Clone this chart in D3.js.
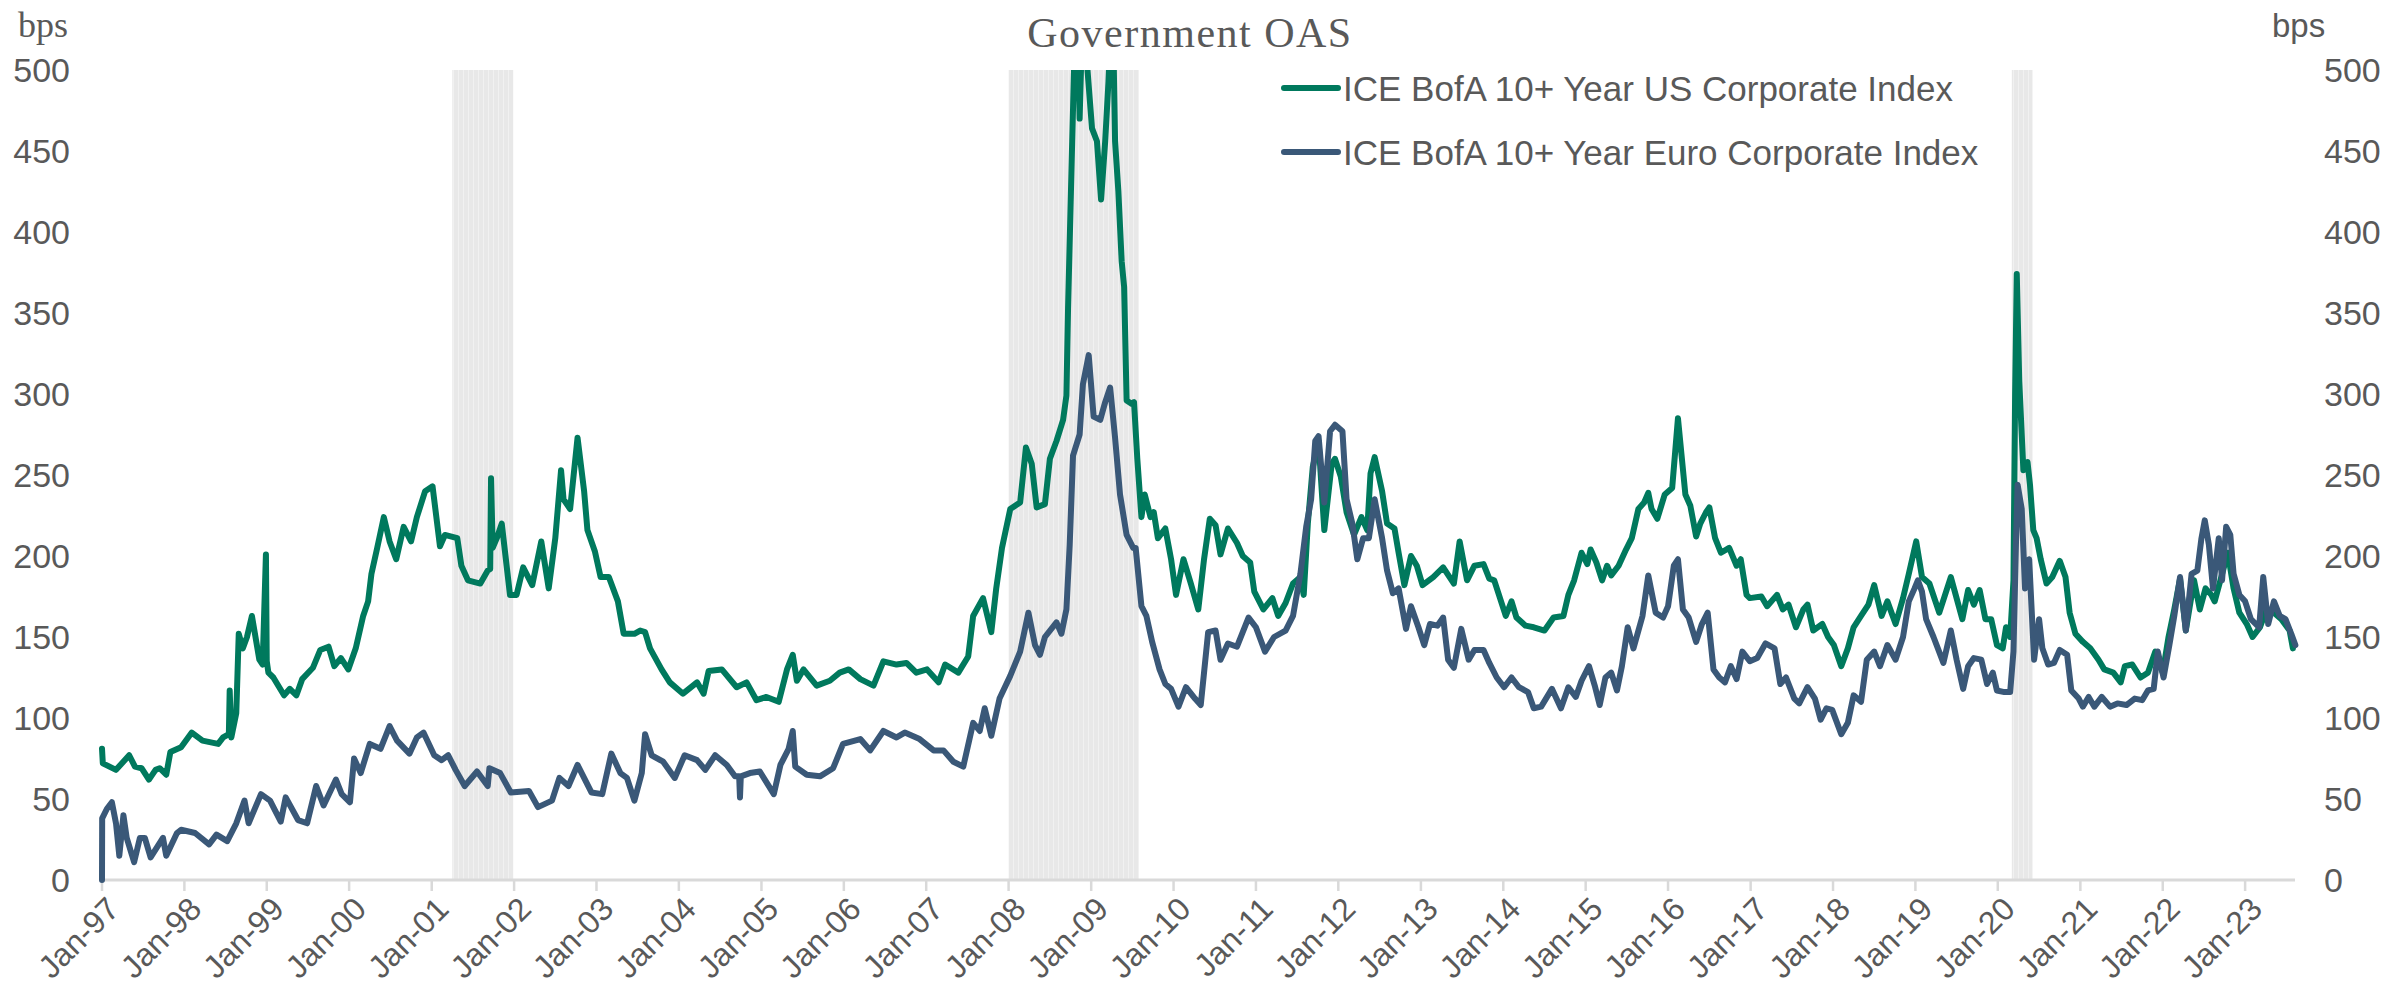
<!DOCTYPE html>
<html>
<head>
<meta charset="utf-8">
<script src="https://cdn.jsdelivr.net/npm/d3@7"></script>
<style>
body{margin:0;background:#fff}
</style>
</head>
<body>
<div id="chart"></div>
<script>
// time in decimal years, spreads in bps
var usTime = [1997.00,1997.01,1997.17,1997.33,1997.40,1997.48,1997.57,1997.65,1997.70,1997.78,1997.83,1997.96,1998.09,1998.22,1998.41,1998.47,1998.54,1998.55,1998.57,1998.63,1998.66,1998.71,1998.76,1998.82,1998.87,1998.91,1998.95,1998.99,1999.00,1999.02,1999.08,1999.21,1999.28,1999.36,1999.43,1999.56,1999.65,1999.75,1999.82,1999.90,1999.99,2000.08,2000.17,2000.23,2000.27,2000.34,2000.42,2000.49,2000.57,2000.66,2000.75,2000.82,2000.92,2001.01,2001.10,2001.16,2001.31,2001.36,2001.44,2001.59,2001.68,2001.71,2001.72,2001.74,2001.79,2001.85,2001.95,2002.03,2002.11,2002.22,2002.33,2002.42,2002.50,2002.57,2002.60,2002.68,2002.77,2002.85,2002.89,2002.98,2003.05,2003.15,2003.26,2003.33,2003.46,2003.53,2003.59,2003.65,2003.79,2003.89,2004.05,2004.22,2004.30,2004.36,2004.52,2004.70,2004.82,2004.94,2005.06,2005.21,2005.31,2005.38,2005.43,2005.51,2005.67,2005.83,2005.95,2006.06,2006.20,2006.36,2006.48,2006.64,2006.76,2006.88,2007.01,2007.15,2007.23,2007.39,2007.51,2007.57,2007.69,2007.79,2007.85,2007.92,2008.02,2008.14,2008.21,2008.28,2008.34,2008.44,2008.50,2008.58,2008.66,2008.70,2008.72,2008.77,2008.80,2008.84,2008.86,2008.89,2008.94,2009.01,2009.07,2009.12,2009.17,2009.21,2009.24,2009.27,2009.29,2009.33,2009.37,2009.40,2009.43,2009.49,2009.52,2009.56,2009.61,2009.65,2009.72,2009.76,2009.81,2009.90,2009.97,2010.03,2010.12,2010.21,2010.30,2010.37,2010.44,2010.51,2010.57,2010.66,2010.77,2010.84,2010.93,2010.98,2011.09,2011.20,2011.27,2011.36,2011.45,2011.54,2011.58,2011.63,2011.69,2011.76,2011.83,2011.92,2011.96,2012.03,2012.10,2012.19,2012.28,2012.35,2012.39,2012.44,2012.53,2012.59,2012.68,2012.73,2012.80,2012.88,2012.95,2013.02,2013.15,2013.27,2013.40,2013.47,2013.56,2013.65,2013.76,2013.83,2013.89,2013.96,2014.03,2014.10,2014.16,2014.27,2014.37,2014.50,2014.61,2014.73,2014.79,2014.86,2014.95,2015.02,2015.06,2015.13,2015.20,2015.26,2015.31,2015.40,2015.49,2015.56,2015.64,2015.71,2015.76,2015.80,2015.87,2015.96,2016.05,2016.12,2016.21,2016.27,2016.34,2016.39,2016.46,2016.50,2016.57,2016.64,2016.74,2016.83,2016.88,2016.95,2016.99,2017.13,2017.20,2017.32,2017.39,2017.46,2017.55,2017.64,2017.69,2017.76,2017.87,2017.94,2018.01,2018.10,2018.18,2018.25,2018.34,2018.43,2018.50,2018.59,2018.66,2018.76,2018.85,2018.92,2019.01,2019.08,2019.17,2019.29,2019.43,2019.50,2019.57,2019.64,2019.71,2019.78,2019.85,2019.92,2019.99,2020.06,2020.10,2020.15,2020.19,2020.21,2020.23,2020.26,2020.31,2020.36,2020.39,2020.43,2020.47,2020.52,2020.59,2020.66,2020.75,2020.82,2020.87,2020.94,2021.03,2021.12,2021.22,2021.29,2021.40,2021.49,2021.54,2021.63,2021.73,2021.82,2021.91,2022.00,2022.07,2022.14,2022.21,2022.28,2022.38,2022.45,2022.52,2022.59,2022.63,2022.70,2022.79,2022.86,2022.93,2023.02,2023.09,2023.18,2023.26,2023.35,2023.44,2023.54,2023.58]
var usOAS = [81,72,68,77,70,69,62,68,69,65,79,82,91,86,84,88,90,117,88,103,152,143,150,163,148,136,133,201,135,128,125,114,118,114,124,131,142,144,132,137,130,143,163,172,189,205,224,209,198,218,209,224,240,243,206,213,211,194,185,183,191,192,248,205,211,220,176,176,193,182,209,180,211,253,235,229,273,240,216,203,187,187,172,152,152,154,153,143,130,122,115,122,115,129,130,119,122,111,113,110,130,139,123,130,120,123,128,130,124,120,135,133,134,128,130,122,133,128,138,163,174,153,180,205,229,233,267,257,230,232,260,271,284,299,353,456,515,520,470,525,510,464,456,420,456,493,530,515,456,425,382,366,296,294,295,260,224,238,224,227,211,217,198,176,198,183,167,198,223,219,201,217,208,200,196,178,167,174,163,171,183,187,176,220,255,271,216,257,260,249,227,213,224,216,251,261,240,220,217,202,182,200,194,182,187,193,183,209,185,194,195,186,185,174,163,172,162,157,156,154,162,163,176,185,202,195,204,196,185,194,188,194,204,211,229,233,239,229,223,238,242,285,238,231,212,220,227,230,211,202,205,194,198,176,174,175,169,176,167,170,156,167,170,154,158,150,145,132,143,156,163,170,182,163,172,158,174,189,209,187,183,165,187,174,161,179,170,179,161,161,145,143,156,150,185,300,374,308,253,258,244,216,211,198,183,187,197,187,165,152,147,143,136,130,128,122,132,133,125,128,141,128,150,167,186,154,185,167,180,176,172,185,202,180,165,158,150,156,167,165,161,154,143]

var euTime = [1997.00,1997.002,1997.06,1997.12,1997.17,1997.21,1997.26,1997.30,1997.39,1997.46,1997.52,1997.59,1997.74,1997.78,1997.91,1997.96,1998.13,1998.30,1998.39,1998.52,1998.63,1998.73,1998.78,1998.93,1999.04,1999.17,1999.23,1999.38,1999.49,1999.60,1999.69,1999.84,1999.91,2000.01,2000.06,2000.14,2000.25,2000.38,2000.49,2000.58,2000.73,2000.82,2000.90,2001.03,2001.12,2001.20,2001.29,2001.40,2001.55,2001.68,2001.70,2001.83,2001.96,2002.18,2002.29,2002.46,2002.55,2002.66,2002.77,2002.94,2003.07,2003.18,2003.29,2003.37,2003.46,2003.55,2003.59,2003.67,2003.81,2003.95,2004.07,2004.22,2004.32,2004.44,2004.58,2004.68,2004.73,2004.74,2004.75,2004.86,2004.98,2005.15,2005.23,2005.33,2005.38,2005.41,2005.55,2005.71,2005.87,2005.99,2006.20,2006.32,2006.48,2006.64,2006.74,2006.92,2007.09,2007.21,2007.33,2007.45,2007.57,2007.65,2007.71,2007.79,2007.89,2008.02,2008.14,2008.24,2008.32,2008.38,2008.44,2008.58,2008.64,2008.70,2008.74,2008.78,2008.86,2008.90,2008.97,2009.03,2009.11,2009.17,2009.23,2009.29,2009.35,2009.43,2009.51,2009.54,2009.61,2009.67,2009.74,2009.83,2009.90,2009.97,2010.06,2010.15,2010.26,2010.33,2010.37,2010.42,2010.51,2010.57,2010.66,2010.77,2010.91,2011.00,2011.11,2011.22,2011.36,2011.45,2011.54,2011.61,2011.67,2011.72,2011.76,2011.83,2011.90,2011.96,2012.05,2012.10,2012.17,2012.23,2012.30,2012.37,2012.44,2012.53,2012.59,2012.66,2012.73,2012.82,2012.88,2012.97,2013.04,2013.11,2013.20,2013.27,2013.33,2013.40,2013.49,2013.58,2013.65,2013.76,2013.83,2013.92,2014.01,2014.10,2014.19,2014.30,2014.37,2014.46,2014.59,2014.70,2014.79,2014.88,2014.95,2015.04,2015.11,2015.17,2015.24,2015.31,2015.38,2015.44,2015.51,2015.58,2015.69,2015.76,2015.85,2015.94,2016.00,2016.07,2016.12,2016.18,2016.25,2016.34,2016.41,2016.48,2016.55,2016.62,2016.69,2016.76,2016.83,2016.90,2016.99,2017.08,2017.18,2017.29,2017.36,2017.43,2017.53,2017.59,2017.69,2017.78,2017.85,2017.92,2017.99,2018.10,2018.18,2018.25,2018.34,2018.41,2018.50,2018.57,2018.66,2018.76,2018.85,2018.92,2018.99,2019.03,2019.08,2019.13,2019.22,2019.34,2019.43,2019.50,2019.58,2019.64,2019.71,2019.80,2019.87,2019.94,2019.99,2020.08,2020.15,2020.19,2020.22,2020.24,2020.29,2020.33,2020.38,2020.44,2020.50,2020.54,2020.61,2020.68,2020.75,2020.84,2020.89,2020.98,2021.03,2021.10,2021.17,2021.26,2021.36,2021.45,2021.56,2021.66,2021.75,2021.82,2021.89,2021.94,2022.01,2022.08,2022.14,2022.21,2022.28,2022.35,2022.42,2022.47,2022.51,2022.56,2022.61,2022.68,2022.72,2022.77,2022.82,2022.86,2022.93,2023.00,2023.07,2023.17,2023.22,2023.28,2023.35,2023.42,2023.49,2023.56,2023.61]
var euOAS = [0,38,44,48,35,15,40,26,11,26,26,14,26,15,29,31,29,22,28,24,35,49,35,53,49,36,51,37,35,58,46,62,53,48,75,66,84,81,95,86,78,88,91,77,74,77,68,58,67,58,69,66,54,55,45,49,63,58,71,54,53,78,66,63,49,66,90,77,73,63,77,74,68,77,71,64,64,51,64,66,67,53,71,81,92,70,65,64,69,84,87,80,92,88,91,87,80,80,73,70,97,92,106,89,112,126,141,165,145,139,150,159,152,167,207,262,275,306,324,286,284,295,304,273,238,213,205,205,169,163,147,130,121,118,107,119,112,108,128,153,154,136,146,144,162,156,141,150,154,163,189,218,235,271,274,233,277,281,277,235,220,198,211,211,235,211,191,177,180,155,169,156,145,158,157,162,136,131,155,136,142,142,134,125,119,125,119,116,106,107,118,106,119,113,123,132,120,108,125,128,117,132,156,143,163,188,165,162,169,194,198,167,162,147,158,165,130,125,122,132,124,141,135,137,146,143,121,125,112,109,119,112,99,106,105,90,97,114,110,136,141,132,145,136,150,172,180,185,178,161,150,134,154,136,118,132,137,136,121,128,117,116,116,141,207,244,229,180,198,136,161,143,133,134,142,139,117,112,107,113,107,113,107,109,108,112,111,117,118,141,125,145,163,187,154,189,191,211,222,207,180,211,185,218,213,189,176,172,161,156,187,158,172,163,161,152,145]

// recessions, shaded
var recStart = [2001.25, 2008.0, 2020.17]
var recEnd   = [2001.99, 2009.58, 2020.42]

var xTickLabels = ["Jan-97","Jan-98","Jan-99","Jan-00","Jan-01","Jan-02","Jan-03","Jan-04","Jan-05","Jan-06","Jan-07","Jan-08","Jan-09","Jan-10","Jan-11","Jan-12","Jan-13","Jan-14","Jan-15","Jan-16","Jan-17","Jan-18","Jan-19","Jan-20","Jan-21","Jan-22","Jan-23"]
var yTicks = [0,50,100,150,200,250,300,350,400,450,500]
var seriesNames = ["ICE BofA 10+ Year US Corporate Index","ICE BofA 10+ Year Euro Corporate Index"]
var seriesColors = ["#00795d","#3a5878"]

function toDate(t){
    var yr = Math.floor(t)
    var a = new Date(yr,0,1), b = new Date(yr+1,0,1)
    return new Date(+a + (t-yr)*(b-a))
}

var W = 2386, H = 998
var pLeft = 102, pRight = 2295, pTop = 70, pBottom = 880
var textCol = "#595959"
var sans = "'Liberation Sans', Arial, sans-serif"
var serif = "'Liberation Serif', 'Times New Roman', serif"

var svg = d3.select("#chart").append("svg").attr("width",W).attr("height",H)
svg.append("rect").attr("width",W).attr("height",H).attr("fill","#fff")

var x = d3.scaleTime().domain([new Date(1997,0,1), new Date(2023,7,10)]).range([pLeft,pRight])
var y = d3.scaleLinear().domain([0,500]).range([pBottom,pTop])

// stripy fill for recession bars
var defs = svg.append("defs")
var pat = defs.append("pattern").attr("id","stripes").attr("patternUnits","userSpaceOnUse").attr("width",5).attr("height",10)
pat.append("rect").attr("width",5).attr("height",10).attr("fill","#e8e8e8")
pat.append("rect").attr("x",3).attr("width",1).attr("height",10).attr("fill","#f1f1f1")
defs.append("clipPath").attr("id","plot").append("rect")
    .attr("x",pLeft-5).attr("y",pTop).attr("width",pRight-pLeft+10).attr("height",pBottom-pTop+5)

svg.selectAll(".rec").data(recStart).enter().append("rect")
    .attr("class","rec")
    .attr("x",function(d){return x(toDate(d))})
    .attr("width",function(d,i){return x(toDate(recEnd[i]))-x(toDate(d))})
    .attr("y",y(500)).attr("height",y(0)-y(500))
    .attr("fill","url(#stripes)")

// x axis
var xTickDates = xTickLabels.map(d3.timeParse("%b-%y"))
svg.append("line").attr("x1",pLeft).attr("x2",pRight).attr("y1",y(0)).attr("y2",y(0))
    .attr("stroke","#d9d9d9").attr("stroke-width",3)
svg.selectAll(".xt").data(xTickDates).enter().append("line")
    .attr("x1",function(d){return x(d)}).attr("x2",function(d){return x(d)})
    .attr("y1",y(0)).attr("y2",y(0)+11)
    .attr("stroke","#d9d9d9").attr("stroke-width",2.5)
svg.selectAll(".xl").data(xTickDates).enter().append("text")
    .text(function(d,i){return xTickLabels[i]})
    .attr("transform",function(d){return "translate("+(x(d)+2)+","+(y(0)+14)+") rotate(-45)"})
    .attr("text-anchor","end").attr("dy","0.75em")
    .attr("font-family",sans).attr("font-size","32px").attr("fill",textCol)

// y axes, both sides
svg.selectAll(".yl").data(yTicks).enter().append("text")
    .text(function(d){return d})
    .attr("x",70).attr("y",function(d){return y(d)}).attr("dy","0.36em")
    .attr("text-anchor","end")
    .attr("font-family",sans).attr("font-size","34px").attr("fill",textCol)
svg.selectAll(".yr").data(yTicks).enter().append("text")
    .text(function(d){return d})
    .attr("x",2324).attr("y",function(d){return y(d)}).attr("dy","0.36em")
    .attr("font-family",sans).attr("font-size","34px").attr("fill",textCol)

svg.append("text").text("bps").attr("x",18).attr("y",37)
    .attr("font-family",serif).attr("font-size","36px").attr("fill",textCol)
svg.append("text").text("bps").attr("x",2272).attr("y",37)
    .attr("font-family",sans).attr("font-size","33px").attr("fill",textCol)

svg.append("text").text("Government OAS").attr("x",1190).attr("y",47)
    .attr("text-anchor","middle").attr("letter-spacing","1.5px")
    .attr("font-family",serif).attr("font-size","42px").attr("fill",textCol)

// lines
var line = d3.line().x(function(d){return x(toDate(d[0]))}).y(function(d){return y(d[1])})
var plot = svg.append("g").attr("clip-path","url(#plot)")
var series = [d3.zip(usTime,usOAS), d3.zip(euTime,euOAS)]
plot.selectAll("path").data(series).enter().append("path")
    .attr("d",line)
    .attr("fill","none")
    .attr("stroke",function(d,i){return seriesColors[i]})
    .attr("stroke-width",6)
    .attr("stroke-linejoin","round").attr("stroke-linecap","round")

// legend
var leg = svg.selectAll(".leg").data(seriesNames).enter().append("g")
    .attr("transform",function(d,i){return "translate(1284,"+(88+i*64)+")"})
leg.append("line").attr("x1",0).attr("x2",54)
    .attr("stroke",function(d,i){return seriesColors[i]}).attr("stroke-width",6).attr("stroke-linecap","round")
leg.append("text").text(function(d){return d}).attr("x",59).attr("dy","0.36em")
    .attr("font-family",sans).attr("font-size","35px").attr("fill",textCol)
</script>
</body>
</html>
